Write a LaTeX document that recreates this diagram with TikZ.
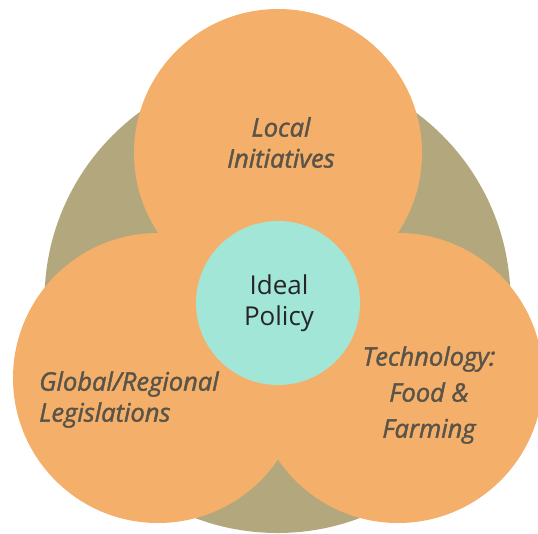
\documentclass[tikz,border=0pt]{standalone}
\usepackage{fontspec}
\setmainfont{Open Sans}
\newfontfamily\petalfont[FakeBold=1.6]{Open Sans}
\definecolor{olive}{HTML}{B3A77D}
\definecolor{petal}{HTML}{F4B06A}
\definecolor{core}{HTML}{A2E6D8}
\definecolor{lbl}{HTML}{5A5448}
\begin{document}
\begin{tikzpicture}[x=1pt,y=-1pt,
  disc/.style={circle,inner sep=0pt,draw=none},
  petaltext/.style={font=\petalfont\fontsize{25.5}{31}\selectfont\itshape,text=lbl,align=center,inner sep=0pt},
  coretext/.style={font=\fontsize{26}{31}\selectfont,text=black!85,align=center,inner sep=0pt}]
\useasboundingbox (0,0) rectangle (538,533);
\clip (0,0) rectangle (538,533);
\node[disc,fill=olive,minimum size=466pt] (outer) at (277.5,300) {};
\node[disc,fill=petal,minimum size=288pt] (top) at (278,153) {};
\node[disc,fill=petal,minimum size=290pt] (left) at (158,378) {};
\node[disc,fill=petal,minimum size=290pt] (right) at (398,378) {};
\node[disc,fill=core,minimum size=164pt] (ideal) at (278,303) {};
\node[petaltext] (tlabel) at (281,142.5) {Local\\Initiatives};
\node[petaltext,align=left,anchor=west] (llabel) at (39,399.5) {Global/Regional\\Legislations};
\node[petaltext] (rlabel) at (429,395) {Technology:\\[5pt]Food \&\\[5pt]Farming};
\node[coretext] (clabel) at (279,303) {Ideal\\Policy};
\end{tikzpicture}
\end{document}
